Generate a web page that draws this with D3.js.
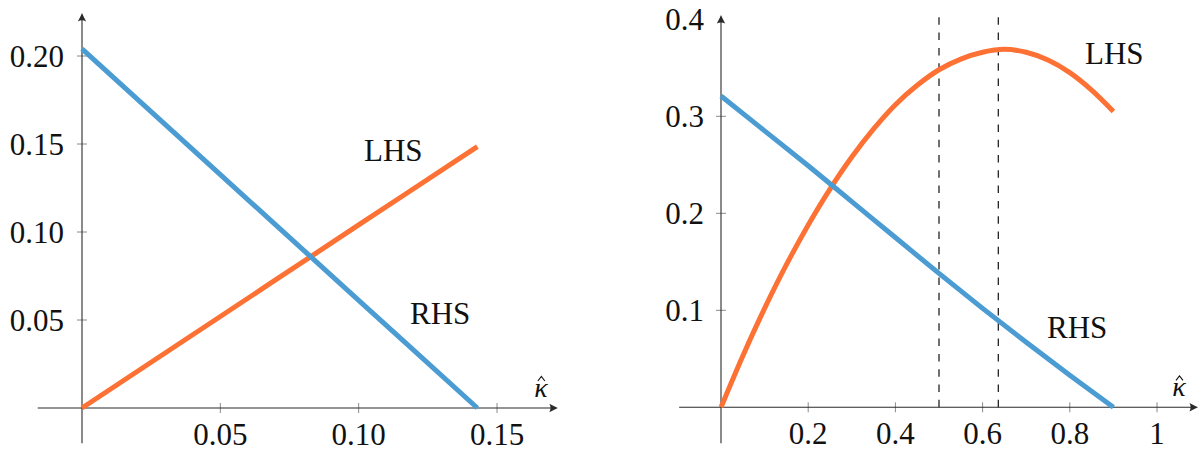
<!DOCTYPE html>
<html>
<head>
<meta charset="utf-8">
<script src="https://cdn.jsdelivr.net/npm/d3@7"></script>
<style>
  html, body { margin: 0; padding: 0; background: #fff; }
  svg { display: block; }
</style>
</head>
<body>
<svg id="chart" width="1200" height="455"></svg>
<script>
// ---------- data ----------
// Left panel
const leftX      = [0, 0.05, 0.10, 0.1429];
const leftLHS    = [0, 0.052, 0.104, 0.1485];
const leftRHS    = [0.204, 0.1326, 0.0612, 0];
const leftXTicks = [0.05, 0.10, 0.15];
const leftXTickLabels = ["0.05", "0.10", "0.15"];
const leftYTicks = [0.05, 0.10, 0.15, 0.20];
const leftYTickLabels = ["0.05", "0.10", "0.15", "0.20"];

// Right panel
const rightLHSX = [0, 0.05, 0.10, 0.15, 0.20, 0.25, 0.30, 0.35, 0.40, 0.45, 0.50, 0.55, 0.60, 0.65, 0.70, 0.75, 0.80, 0.85, 0.90];
const rightLHS  = [0, 0.053, 0.102, 0.147, 0.188, 0.225, 0.258, 0.287, 0.312, 0.332, 0.348, 0.359, 0.366, 0.369, 0.366, 0.358, 0.345, 0.327, 0.305];
const rightRHSX = [0, 0.1, 0.2, 0.3, 0.4, 0.5, 0.6, 0.7, 0.8, 0.9];
const rightRHS  = [0.321, 0.285, 0.249, 0.212, 0.175, 0.138, 0.102, 0.067, 0.033, 0];
const rightVLines = [0.5, 0.636];
const rightXTicks = [0.2, 0.4, 0.6, 0.8, 1];
const rightXTickLabels = ["0.2", "0.4", "0.6", "0.8", "1"];
const rightYTicks = [0.1, 0.2, 0.3, 0.4];
const rightYTickLabels = ["0.1", "0.2", "0.3", "0.4"];

// ---------- style ----------
const BLUE = "#4b9cd3";
const ORANGE = "#fd7134";
const AXIS = "#2a2a2a";
const TICK = "#8a8a8a";
const FS = 31;
const FONT = "'Liberation Serif', 'Times New Roman', Tinos, 'DejaVu Serif', serif";

const svg = d3.select("#chart").attr("font-family", FONT);

function arrowHead(g, x, y, dir) {
  const p = "M0,0 Q-3,-1.2 -8.5,-4.2 Q-6.2,0 -8.5,4.2 Q-3,1.2 0,0 Z";
  const rot = dir === "right" ? 0 : -90;
  g.append("path").attr("d", p)
    .attr("transform", `translate(${x},${y}) rotate(${rot})`)
    .attr("fill", AXIS);
}

function panel(cfg) {
  const g = svg.append("g");
  const x = d3.scaleLinear().domain(cfg.xDomain).range(cfg.xRange);
  const y = d3.scaleLinear().domain(cfg.yDomain).range(cfg.yRange);

  // ticks (drawn through axis)
  g.selectAll(null).data(cfg.xTicks).enter().append("line")
    .attr("x1", d => x(d)).attr("x2", d => x(d))
    .attr("y1", y(0) - 5).attr("y2", y(0) + 5)
    .attr("stroke", TICK).attr("stroke-width", 1);
  g.selectAll(null).data(cfg.yTicks.filter(d => d < cfg.yTickArrowSkip)).enter().append("line")
    .attr("y1", d => y(d)).attr("y2", d => y(d))
    .attr("x1", x(0) - 5).attr("x2", x(0) + 5)
    .attr("stroke", TICK).attr("stroke-width", 1);

  // vertical dashed lines
  if (cfg.vlines) {
    g.selectAll(null).data(cfg.vlines).enter().append("line")
      .attr("x1", d => x(d)).attr("x2", d => x(d))
      .attr("y1", y(0)).attr("y2", y(cfg.vTop))
      .attr("stroke", "#111").attr("stroke-width", 1.2)
      .attr("stroke-dasharray", "7.5,7.8");
  }

  // axes
  const xa0 = x(cfg.xExtent[0]), xa1 = x(cfg.xExtent[1]);
  const ya0 = y(cfg.yExtent[0]), ya1 = y(cfg.yExtent[1]);
  g.append("line").attr("x1", xa0).attr("x2", xa1 - 3)
    .attr("y1", y(0)).attr("y2", y(0))
    .attr("stroke", AXIS).attr("stroke-width", 1.1);
  g.append("line").attr("x1", x(0)).attr("x2", x(0))
    .attr("y1", ya0).attr("y2", ya1 + 3)
    .attr("stroke", AXIS).attr("stroke-width", 1.1);
  arrowHead(g, xa1, y(0), "right");
  arrowHead(g, x(0), ya1, "up");

  // curves
  const line = d3.line().x(d => x(d[0])).y(d => y(d[1])).curve(d3.curveCatmullRom.alpha(0.5));
  cfg.series.forEach(s => {
    g.append("path")
      .datum(s.xs.map((v, i) => [v, s.ys[i]]))
      .attr("d", line)
      .attr("fill", "none")
      .attr("stroke", s.color)
      .attr("stroke-width", 5)
      .attr("stroke-linejoin", "round");
  });

  // tick labels
  g.selectAll(null).data(cfg.xTicks).enter().append("text")
    .attr("x", d => x(d)).attr("y", y(0) + 37)
    .attr("text-anchor", "middle")
    .attr("font-size", FS).attr("fill", "#111")
    .text((d, i) => cfg.xTickLabels[i]);
  g.selectAll(null).data(cfg.yTicks).enter().append("text")
    .attr("x", x(0) - cfg.yLabelGap).attr("y", d => y(d))
    .attr("dy", "0.35em")
    .attr("text-anchor", "end")
    .attr("font-size", FS).attr("fill", "#111")
    .text((d, i) => cfg.yTickLabels[i]);

  // axis label kappa with a hat accent drawn as a small path
  const kx = x(cfg.xExtent[1]) - cfg.kappaOff, ky = y(0) - 11;
  g.append("text").attr("x", kx).attr("y", ky)
    .attr("text-anchor", "middle")
    .attr("font-size", 28).attr("font-style", "italic").attr("fill", "#111")
    .text("κ");
  g.append("path")
    .attr("d", `M${kx - 3},${ky - 16} L${kx + 0.5},${ky - 20.5} L${kx + 4},${ky - 16}`)
    .attr("fill", "none").attr("stroke", "#111").attr("stroke-width", 1.1);

  // series labels
  cfg.labels.forEach(l => {
    g.append("text").attr("x", l.x).attr("y", l.y)
      .attr("font-size", FS).attr("fill", "#111").text(l.text);
  });
}

panel({
  xDomain: [0, 0.15], xRange: [82, 497],
  yDomain: [0, 0.20], yRange: [408, 56],
  xExtent: [-0.016, 0.172], yExtent: [-0.02, 0.2245],
  xTicks: leftXTicks, xTickLabels: leftXTickLabels,
  yTicks: leftYTicks, yTickLabels: leftYTickLabels,
  yTickArrowSkip: 1, yLabelGap: 18, kappaOff: 17,
  series: [
    { xs: leftX, ys: leftLHS, color: ORANGE },
    { xs: leftX, ys: leftRHS, color: BLUE }
  ],
  labels: [
    { text: "LHS", x: 364, y: 161 },
    { text: "RHS", x: 410, y: 324 }
  ]
});

panel({
  xDomain: [0, 1], xRange: [721, 1157],
  yDomain: [0, 0.4], yRange: [407.3, 19.3],
  xExtent: [-0.096, 1.094], yExtent: [-0.037, 0.4044],
  xTicks: rightXTicks, xTickLabels: rightXTickLabels,
  yTicks: rightYTicks, yTickLabels: rightYTickLabels,
  yTickArrowSkip: 0.35, yLabelGap: 17, kappaOff: 19,
  vlines: rightVLines, vTop: 0.4027,
  series: [
    { xs: rightLHSX, ys: rightLHS, color: ORANGE },
    { xs: rightRHSX, ys: rightRHS, color: BLUE }
  ],
  labels: [
    { text: "LHS", x: 1085, y: 64 },
    { text: "RHS", x: 1047, y: 338 }
  ]
});
</script>
</body>
</html>
